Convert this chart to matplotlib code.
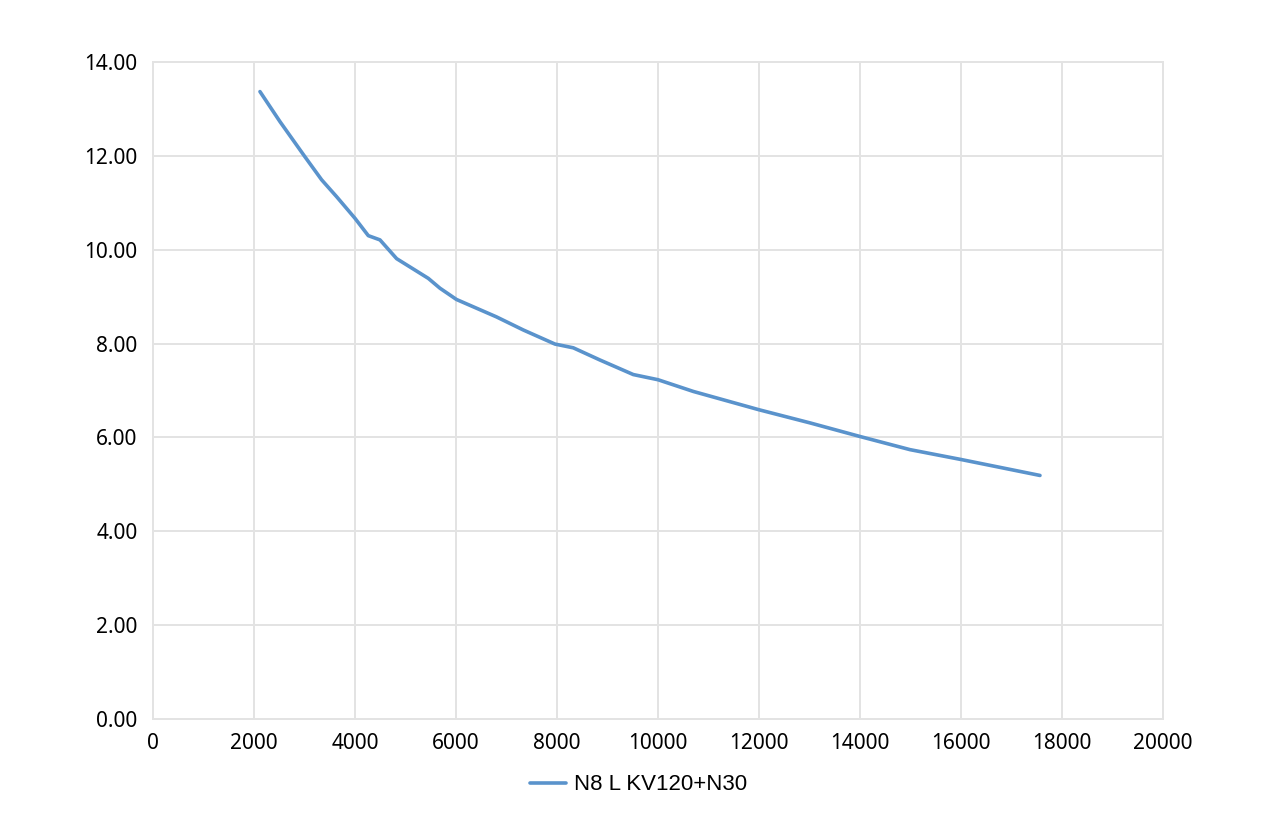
import matplotlib
matplotlib.use('Agg')
import matplotlib.pyplot as plt

# values
speed = [2119, 2515, 3010, 3340, 3637, 4000, 4264, 4495, 4825, 5452, 5683,
         6010, 6800, 7333, 7960, 8323, 8851, 9511, 10000, 10700, 12000,
         13010, 14000, 14990, 16000, 17564]
value = [13.37, 12.73, 11.98, 11.49, 11.13, 10.67, 10.30, 10.21, 9.81, 9.39, 9.18,
         8.94, 8.57, 8.29, 7.99, 7.91, 7.65, 7.34, 7.23, 6.98, 6.59,
         6.31, 6.02, 5.74, 5.53, 5.19]
series_name = 'N8 L KV120+N30'

x_ticks = list(range(0, 20001, 2000))
y_ticks = [0, 2, 4, 6, 8, 10, 12, 14]

grid_col = '#e3e3e3'
line_col = '#5a93cc'

fig = plt.figure(figsize=(12.8, 8.25), dpi=100)
ax = fig.add_axes([0.1195, 0.1285, 0.7891, 0.7963])

ax.plot(speed, value, color=line_col, linewidth=2.6, solid_capstyle='round',
        solid_joinstyle='round', label=series_name)

ax.set_xlim(0, 20000)
ax.set_ylim(0, 14)
ax.set_xticks(x_ticks)
ax.set_yticks(y_ticks)
ax.set_yticklabels([f'{v:.2f}' for v in y_ticks])
ax.grid(True, color=grid_col, linewidth=1.4)
ax.set_axisbelow(True)
for s in ax.spines.values():
    s.set_color(grid_col)
    s.set_linewidth(1.4)
ax.tick_params(length=0, labelsize=15, labelcolor='black')
ax.tick_params(axis='y', pad=11)
ax.tick_params(axis='x', pad=10)
for lbl in ax.get_xticklabels() + ax.get_yticklabels():
    lbl.set_family('Noto Sans')

leg = fig.legend(loc='center', bbox_to_anchor=(0.499, 0.0485), frameon=False,
                 handlelength=1.6, handletextpad=0.35,
                 prop={'family': 'Liberation Sans', 'size': 16})

fig.savefig('out.png', dpi=100)
